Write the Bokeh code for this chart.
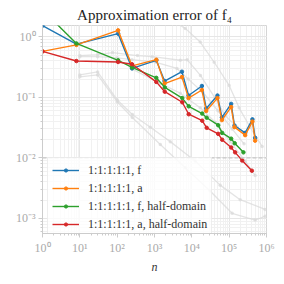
from bokeh.plotting import figure
from bokeh.models import Span, Legend, LegendItem, CustomJSTickFormatter
from bokeh.embed import file_html
from bokeh.resources import INLINE

# ---- data ----
n_full = [1, 8.1, 106, 250, 1120, 1860, 5430, 8160, 18600, 24300, 48600, 63800,
          113000, 139000, 268000, 420000, 496000]
err_f = [1.53, 0.756, 1.13, 0.301, 0.409, 0.186, 0.265, 0.107, 0.154, 0.0655, 0.107,
         0.0465, 0.0779, 0.0342, 0.0258, 0.0432, 0.0214]
err_a = [0.575, 0.736, 1.28, 0.331, 0.419, 0.169, 0.216, 0.097, 0.132, 0.0595, 0.097,
         0.042, 0.0689, 0.0321, 0.0237, 0.0397, 0.0192]

n_half_f = [1, 8.1, 106, 250, 1117, 1885, 5540, 8260, 18970, 25000, 50800, 65000,
            113000, 140300, 241000]
err_half_f = [2.78, 0.778, 0.409, 0.312, 0.210, 0.146, 0.0971, 0.0710, 0.0539, 0.0460,
              0.0346, 0.0258, 0.0207, 0.0174, 0.0123]

n_half_a = [1, 8.1, 106, 250, 1117, 1885, 5540, 8260, 18970, 25000, 50800, 65000,
            113000, 144600, 223000, 405000]
err_half_a = [0.575, 0.398, 0.384, 0.352, 0.180, 0.124, 0.0828, 0.0525, 0.0411, 0.0313,
              0.0249, 0.0199, 0.0148, 0.0123, 0.00902, 0.00612]

# other (background) configurations
bg_n1 = [10, 30, 75, 350, 870, 4900, 7500, 17000, 42000, 78000, 164000, 268000]
bg_e1 = [0.49, 0.51, 0.55, 0.49, 0.47, 0.41, 0.42, 0.23, 0.097, 0.05, 0.032, 0.024]
bg_n2 = [2990, 6660, 16800, 39700, 100000, 185000, 364000, 762000]
bg_e2 = [1.85, 1.38, 0.82, 0.38, 0.157, 0.067, 0.032, 0.0154]
bg_n3 = [10, 30, 101, 255, 773, 2645, 12300, 57400, 197000, 918000]
bg_e3 = [0.235, 0.263, 0.090, 0.052, 0.032, 0.0185, 0.00886, 0.00353, 0.00203, 0.0014]
bg_n4 = [10, 30, 101, 255, 1430, 6660, 30900, 120000, 496000, 918000]
bg_e4 = [0.218, 0.235, 0.0838, 0.0465, 0.0166, 0.00685, 0.00283, 0.00121, 0.000935, 0.00108]
bg_n5 = [255, 1430, 4900, 16800, 42300, 106000, 268000, 496000]
bg_e5 = [0.293, 0.169, 0.117, 0.067, 0.0386, 0.0185, 0.00886, 0.0051]
bg_n6 = [10, 30, 100, 250, 1100, 4000, 8000, 20000, 50000, 120000, 250000]
bg_e6 = [0.47, 0.47, 0.45, 0.42, 0.38, 0.30, 0.20, 0.12, 0.06, 0.03, 0.017]

labels = ["1:1:1:1:1, f", "1:1:1:1:1, a", "1:1:1:1:1, f, half-domain",
          "1:1:1:1:1, a, half-domain"]
colors = ["#1f77b4", "#ff7f0e", "#2ca02c", "#d62728"]
threshold = 0.01

SERIF = "Liberation Serif"

p = figure(width=276, height=276, x_axis_type="log", y_axis_type="log",
           x_range=(1, 1e6), y_range=(5.6e-4, 1.54),
           output_backend="svg", toolbar_location=None,
           min_border_left=42, min_border_right=10, min_border_bottom=37,
           min_border_top=25)

p.title.text = "Approximation error of f\u2084"
p.title.align = "center"
p.title.text_font = SERIF
p.title.text_font_size = "15px"
p.title.text_font_style = "normal"
p.title.text_color = "#222222"
p.title.standoff = 5

p.outline_line_color = "#d5d5d5"
p.background_fill_color = "white"
p.border_fill_color = "white"

sup = ("const e = Math.round(Math.log10(tick));"
       "const s = {'-':'\u207b','0':'\u2070','1':'\u00b9','2':'\u00b2','3':'\u00b3',"
       "'4':'\u2074','5':'\u2075','6':'\u2076','7':'\u2077','8':'\u2078','9':'\u2079'};"
       "return '10' + String(e).split('').map(c => s[c]).join('');")
for ax in (p.xaxis[0], p.yaxis[0]):
    ax.formatter = CustomJSTickFormatter(code=sup)
    ax.axis_line_color = "#cccccc"
    ax.major_tick_line_color = "#cccccc"
    ax.minor_tick_line_color = "#cccccc"
    ax.major_tick_in = 0
    ax.major_tick_out = 4
    ax.minor_tick_in = 0
    ax.minor_tick_out = 2
    ax.major_label_text_font = SERIF
    ax.major_label_text_font_size = "12px"
    ax.major_label_text_color = "#aaaaaa"
    ax.major_label_standoff = 3

p.xaxis.axis_label = "n"
p.xaxis.axis_label_text_font = SERIF
p.xaxis.axis_label_text_font_style = "italic"
p.xaxis.axis_label_text_font_size = "12px"
p.xaxis.axis_label_text_color = "#333333"
p.xaxis.axis_label_standoff = 2

for g in (p.xgrid, p.ygrid):
    g.grid_line_color = "#e6e6e6"
    g.minor_grid_line_color = "#f1f1f1"

# background configurations
for bn, be in [(bg_n1, bg_e1), (bg_n2, bg_e2), (bg_n3, bg_e3), (bg_n4, bg_e4),
               (bg_n5, bg_e5), (bg_n6, bg_e6)]:
    p.line(bn, be, line_color="#d8d8d8", line_width=1.3, line_alpha=0.7)
    p.scatter(bn, be, size=3.5, fill_color="#d8d8d8", line_color=None, fill_alpha=0.7)

p.add_layout(Span(location=threshold, dimension="width", line_color="#c8c8c8",
                  line_dash="4 2", line_width=1.3))

items = []
for (nn, ee), lab, col in zip([(n_full, err_f), (n_full, err_a), (n_half_f, err_half_f),
                               (n_half_a, err_half_a)], labels, colors):
    lr = p.line(nn, ee, line_color=col, line_width=1.4)
    sr = p.scatter(nn, ee, size=3.5, fill_color=col, line_color=col)
    items.append(LegendItem(label=lab, renderers=[lr, sr]))

leg = Legend(items=items, location=(5, -4))
leg.label_text_font = SERIF
leg.label_text_font_size = "12px"
leg.label_text_color = "#333333"
leg.border_line_color = "#dddddd"
leg.background_fill_color = "white"
leg.background_fill_alpha = 0.8
leg.glyph_width = 27
leg.glyph_height = 8
leg.label_height = 16
leg.spacing = 2
leg.padding = 4
leg.margin = 0
leg.label_standoff = 9
p.add_layout(leg)

open("out.html", "w").write(file_html(p, INLINE))
